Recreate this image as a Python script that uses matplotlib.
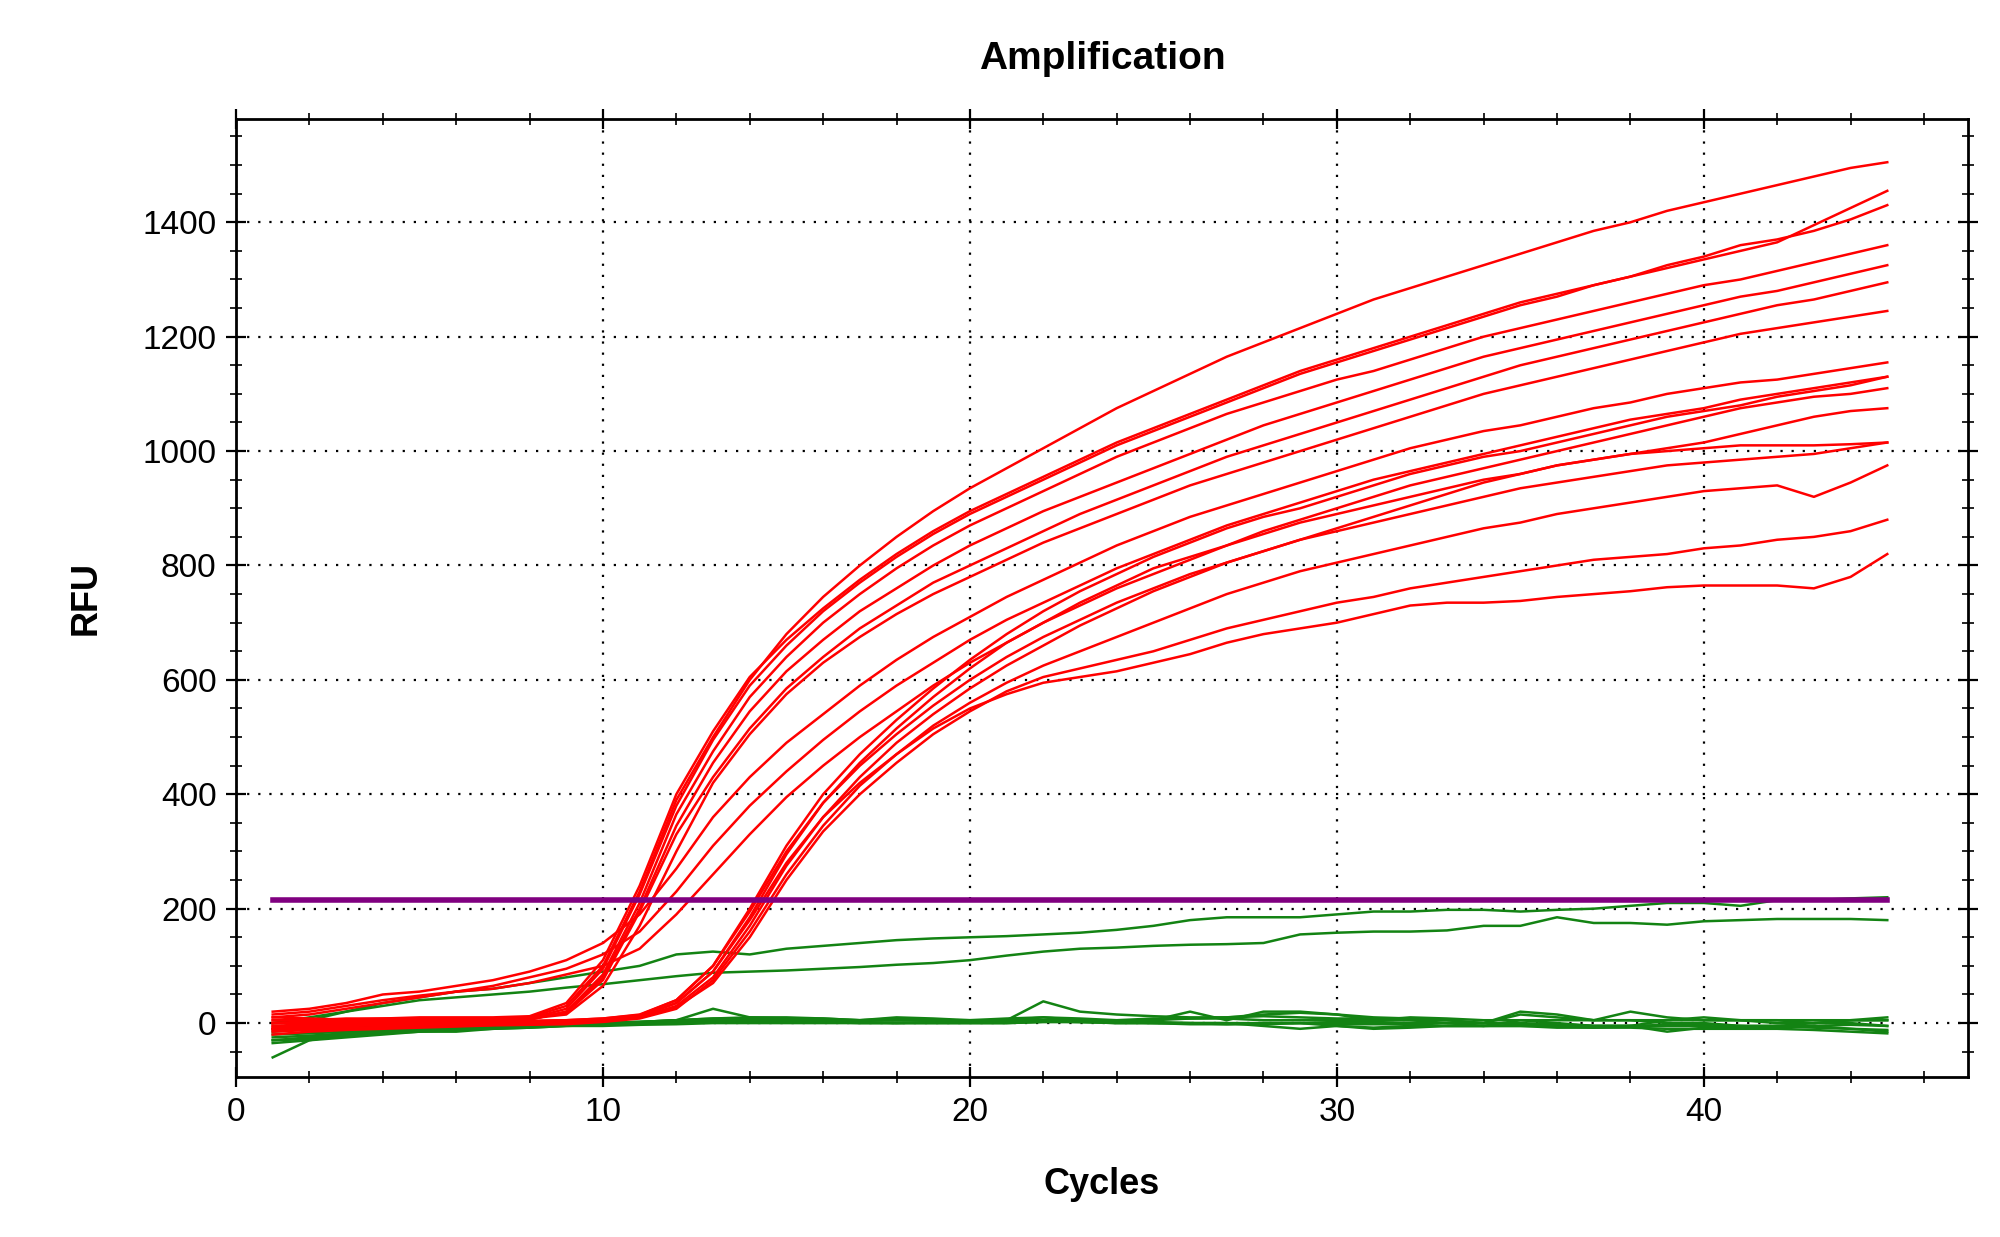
import matplotlib
matplotlib.use("Agg")
import matplotlib.pyplot as plt
from matplotlib.ticker import MultipleLocator

plt.rcParams['font.family'] = ['Liberation Sans', 'DejaVu Sans']

cycles = list(range(1, 46))
threshold = 215

red_curves = {
"R1": [5,5,8,8,8,8,8,10,30,100,230,390,500,600,680,745,800,850,895,935,970,1005,1040,1075,1105,1135,1165,1190,1215,1240,1265,1285,1305,1325,1345,1365,1385,1400,1420,1435,1450,1465,1480,1495,1505],
"R2": [10,8,6,8,10,10,10,12,35,110,240,400,510,605,670,725,775,820,860,895,925,955,985,1015,1040,1065,1090,1115,1140,1160,1180,1200,1220,1240,1260,1275,1290,1305,1320,1335,1350,1365,1395,1425,1455],
"R3": [0,2,5,5,5,6,6,8,25,95,225,380,495,590,660,720,770,815,855,890,920,950,980,1010,1035,1060,1085,1110,1135,1155,1175,1195,1215,1235,1255,1270,1290,1305,1325,1340,1360,1370,1385,1405,1430],
"R4": [-5,-2,0,2,3,4,5,6,20,85,210,365,475,570,640,700,750,795,835,870,900,930,960,990,1015,1040,1065,1085,1105,1125,1140,1160,1180,1200,1215,1230,1245,1260,1275,1290,1300,1315,1330,1345,1360],
"R5": [-10,-5,-3,0,2,3,4,6,20,80,200,345,455,545,615,670,720,760,800,835,865,895,920,945,970,995,1020,1045,1065,1085,1105,1125,1145,1165,1180,1195,1210,1225,1240,1255,1270,1280,1295,1310,1325],
"R6": [5,5,5,6,6,6,6,8,18,75,195,330,430,515,585,640,690,730,770,800,830,860,890,915,940,965,990,1010,1030,1050,1070,1090,1110,1130,1150,1165,1180,1195,1210,1225,1240,1255,1265,1280,1295],
"R7": [0,3,4,5,5,5,6,8,15,65,170,300,420,505,575,630,675,715,750,780,810,840,865,890,915,940,960,980,1000,1020,1040,1060,1080,1100,1115,1130,1145,1160,1175,1190,1205,1215,1225,1235,1245],
"M1": [20,25,35,50,55,65,75,90,110,140,190,270,360,430,490,540,590,635,675,710,745,775,805,835,860,885,905,925,945,965,985,1005,1020,1035,1045,1060,1075,1085,1100,1110,1120,1125,1135,1145,1155],
"M2": [15,20,30,40,48,55,65,80,95,120,160,230,310,380,440,495,545,590,630,670,705,735,765,795,820,845,870,890,910,930,950,965,980,995,1010,1025,1040,1055,1065,1075,1090,1100,1110,1120,1130],
"M3": [10,15,25,35,45,55,60,70,85,100,130,190,260,330,395,450,500,545,590,630,665,700,730,760,785,810,835,860,880,900,920,940,955,970,985,1000,1015,1030,1045,1060,1075,1085,1095,1100,1110],
"L1": [-10,-8,-5,-3,-2,0,2,3,5,8,15,40,100,200,310,400,470,530,585,635,680,720,755,785,815,840,865,885,900,920,940,960,975,990,1000,1015,1030,1045,1060,1070,1080,1095,1105,1115,1130],
"L2": [-5,-5,-3,-2,0,0,2,3,4,6,12,35,90,185,295,385,455,515,570,620,665,700,735,765,795,815,835,855,875,890,905,920,935,950,960,975,985,995,1005,1015,1030,1045,1060,1070,1075],
"L3": [0,0,2,2,3,3,4,4,5,8,14,40,100,195,300,385,450,505,555,600,640,675,705,735,760,785,805,825,845,860,875,890,905,920,935,945,955,965,975,980,985,990,995,1005,1015],
"L4": [-15,-12,-10,-8,-6,-5,-3,-2,0,3,10,30,80,170,275,360,430,490,540,585,625,660,695,725,755,780,805,825,845,865,885,905,925,945,960,975,985,995,1000,1005,1010,1010,1010,1012,1015],
"L5": [-20,-15,-12,-10,-8,-6,-4,-3,-2,2,8,25,75,160,260,345,415,470,520,560,595,625,650,675,700,725,750,770,790,805,820,835,850,865,875,890,900,910,920,930,935,940,920,945,975],
"L6": [-8,-6,-5,-4,-3,-2,-1,0,2,5,10,28,70,150,250,335,400,455,505,545,580,605,620,635,650,670,690,705,720,735,745,760,770,780,790,800,810,815,820,830,835,845,850,860,880],
"L7": [-12,-10,-8,-7,-5,-4,-3,-2,0,4,12,35,90,180,280,360,420,470,515,550,575,595,605,615,630,645,665,680,690,700,715,730,735,735,738,745,750,755,762,765,765,765,760,780,820],
}

green_curves = {
"G1": [0,10,20,35,45,55,60,70,80,90,100,120,125,120,130,135,140,145,148,150,152,155,158,163,170,180,185,185,185,190,195,195,198,198,195,198,200,205,210,210,205,215,215,218,220],
"G2": [-10,5,20,30,40,45,50,55,62,68,75,82,88,90,92,95,98,102,105,110,118,125,130,132,135,137,138,140,155,158,160,160,162,170,170,185,175,175,172,178,180,182,182,182,180],
"G3": [-60,-30,-20,-15,-10,-8,-5,-3,-2,0,2,5,8,10,8,5,5,10,8,5,5,38,20,15,12,10,10,15,18,15,10,8,5,0,20,15,5,20,10,5,5,0,0,5,5],
"G4": [-30,-25,-20,-15,-12,-10,-8,-5,-3,0,2,5,25,10,10,8,5,5,5,5,5,10,8,5,5,20,5,20,20,15,5,5,0,-5,5,0,-5,-5,5,10,5,5,0,5,10],
"G5": [-20,-18,-15,-12,-10,-8,-6,-5,-3,-2,0,0,2,3,5,5,5,5,5,3,3,3,2,2,2,0,0,-5,-10,-5,-8,-5,-5,-5,-5,-5,-8,-5,-5,-5,-8,-5,-8,-10,-12],
"G6": [-35,-30,-25,-20,-15,-15,-10,-8,-5,-3,0,0,3,5,5,3,2,0,2,2,3,3,2,0,0,0,-2,-2,0,2,2,0,0,0,0,-2,-5,-5,-15,-8,-5,-5,-5,-10,-15],
"G7": [-15,-10,-8,-5,-5,-5,-5,-3,-2,0,0,2,5,5,5,5,5,8,5,5,5,5,5,3,5,8,10,12,10,8,8,5,5,0,15,10,5,5,0,0,-5,-5,0,0,-5],
"G8": [-25,-22,-18,-15,-12,-10,-8,-6,-4,-2,0,2,3,3,2,2,0,0,0,0,0,2,2,0,0,-2,-2,0,0,-5,-10,-8,-5,-5,-3,-3,-5,-5,-3,-2,-5,-8,-5,-3,-5],
"G9": [0,2,0,-5,-5,-3,-2,0,2,2,2,5,8,8,8,8,5,5,5,5,8,10,5,5,8,8,8,5,5,5,5,10,8,5,5,5,5,5,5,5,5,5,5,5,5],
"G10": [-30,-28,-22,-18,-15,-12,-10,-8,-5,-5,-3,-2,0,0,0,0,0,0,0,0,0,2,2,2,0,0,0,0,0,-2,-2,-2,-5,-5,-5,-8,-8,-8,-10,-10,-10,-10,-12,-15,-18],
}

fig = plt.figure(figsize=(10, 6.185), dpi=200)
ax = fig.add_axes([0.118, 0.129, 0.866, 0.775])

for k, v in green_curves.items():
    ax.plot(cycles, v, color="#138313", lw=0.9, zorder=2)
for k, v in red_curves.items():
    ax.plot(cycles, v, color="#ff0000", lw=0.9, zorder=3)
ax.plot([cycles[0], cycles[-1]], [threshold, threshold], color="#800080", lw=2.0, zorder=4)

ax.set_xlim(0, 47.2)
ax.set_ylim(-95, 1581)
ax.xaxis.set_major_locator(MultipleLocator(10))
ax.xaxis.set_minor_locator(MultipleLocator(2))
ax.yaxis.set_major_locator(MultipleLocator(200))
ax.yaxis.set_minor_locator(MultipleLocator(50))
ax.grid(True, which="major", color="black", linestyle=(0, (1, 4)), lw=0.8)
ax.tick_params(which="both", top=True, right=True, direction="inout", labelsize=12)
ax.tick_params(which="major", length=7)
ax.tick_params(which="minor", length=4)
for s in ax.spines.values():
    s.set_linewidth(1.0)
ax.set_xlabel("Cycles", fontsize=13, fontweight="bold", labelpad=14)
ax.set_ylabel("RFU", fontsize=13, fontweight="bold", labelpad=14)
ax.set_title("Amplification", fontsize=14, fontweight="bold", pad=18)
fig.savefig("out.png")
